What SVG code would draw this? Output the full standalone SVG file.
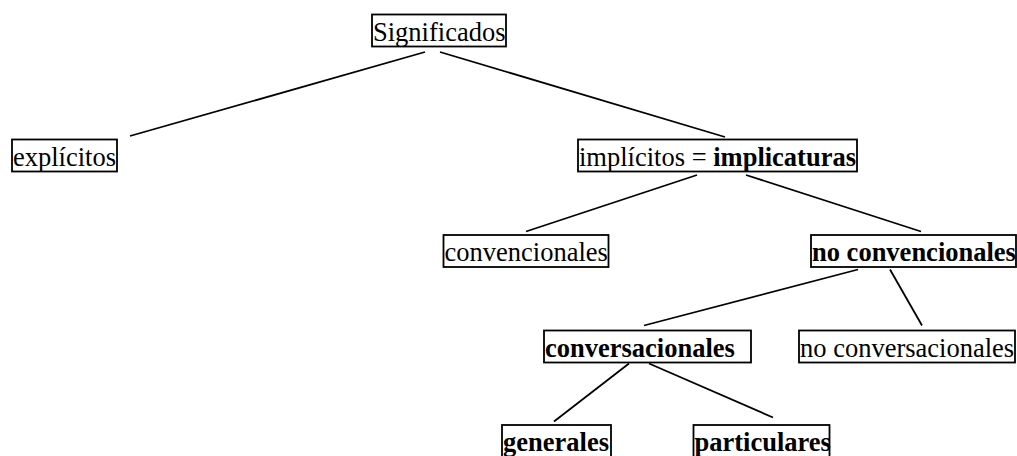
<svg xmlns="http://www.w3.org/2000/svg" width="1017" height="456" viewBox="0 0 1017 456">
<style>
.box{fill:#fff;stroke:#000;stroke-width:1.8}
.t{font-family:"Liberation Serif","Times New Roman",serif;font-size:26.5px;fill:#000}
.b{font-weight:bold}
.c line{stroke:#000;stroke-width:1.8}
</style>
<rect width="1017" height="456" fill="#fff"/>
<g class="c" id="connectors">
<line x1="425" y1="52" x2="130" y2="136"/>
<line x1="440" y1="52" x2="725" y2="137"/>
<line x1="697" y1="175" x2="526" y2="231.5"/>
<line x1="746" y1="175" x2="921" y2="231.5"/>
<line x1="858" y1="269.5" x2="644" y2="325.5"/>
<line x1="890" y1="269.5" x2="922" y2="325.5"/>
<line x1="629" y1="363.5" x2="554" y2="421.5"/>
<line x1="649" y1="363.5" x2="773" y2="417.5"/>
</g>
<g id="n-significados"><rect class="box" x="372" y="14.5" width="134" height="32"/><text class="t" x="373" y="40.5">Significados</text></g>
<g id="n-explicitos"><rect class="box" x="12" y="139.5" width="105" height="32"/><text class="t" x="13" y="165.5">explícitos</text></g>
<g id="n-implicitos"><rect class="box" x="578" y="139.5" width="279" height="32"/><text class="t" x="579" y="165.5">implícitos = <tspan class="b">implicaturas</tspan></text></g>
<g id="n-convencionales"><rect class="box" x="443.5" y="235" width="165" height="32"/><text class="t" x="444.5" y="261">convencionales</text></g>
<g id="n-noconvencionales"><rect class="box" x="811" y="235" width="205" height="32"/><text class="t b" x="812" y="261">no convencionales</text></g>
<g id="n-conversacionales"><rect class="box" x="544" y="330.5" width="207" height="32"/><text class="t b" x="545" y="356.5">conversacionales</text></g>
<g id="n-noconversacionales"><rect class="box" x="799" y="330.5" width="216" height="32"/><text class="t" x="800" y="356.5">no conversacionales</text></g>
<g id="n-generales"><rect class="box" x="502" y="425" width="109" height="32"/><text class="t b" x="503" y="451">generales</text></g>
<g id="n-particulares"><rect class="box" x="693.5" y="425" width="136" height="32"/><text class="t b" x="694.5" y="451">particulares</text></g>
</svg>
